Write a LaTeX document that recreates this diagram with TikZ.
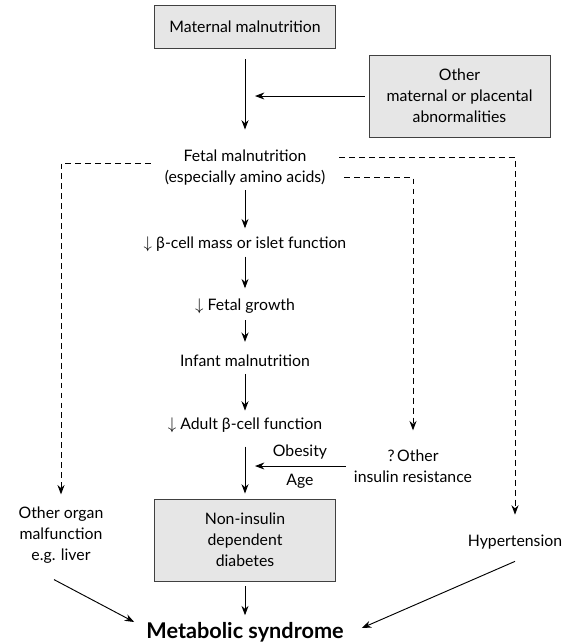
\documentclass[tikz,border=0pt]{standalone}
\usepackage{fontspec}
\setmainfont{Lato}
\usetikzlibrary{arrows.meta}
\definecolor{boxfill}{RGB}{230, 230, 230}
\definecolor{boxline}{RGB}{64, 64, 64}

\begin{document}
\begin{tikzpicture}[x=0.03cm, y=-0.03cm,
  lbl/.style={inner sep=0pt, align=center, font=\fontsize{13.5}{18}\selectfont},
  box/.style={lbl, draw=boxline, fill=boxfill, line width=0.8pt, minimum width=5.43cm},
  link/.style={->, >={Stealth[length=8pt, width=6pt]}, line width=0.8pt},
  dlink/.style={link, dash pattern=on 5pt off 3.5pt}]
  \useasboundingbox (0, 0) rectangle (565, 643);

  % boxes
  \node[box, minimum height=1.29cm] (maternal) at (245, 26.5) {Maternal malnutrition};
  \node[box, minimum height=2.46cm] (other) at (459.5, 96) {Other\\maternal or placental\\abnormalities};
  \node[box, minimum height=2.46cm] (nidd) at (245, 540) {Non-insulin\\dependent\\diabetes};

  % plain labels
  \node[lbl] (fetal) at (245, 167.5) {Fetal malnutrition\\(especially amino acids)};
  \node[lbl] (beta) at (245, 244) {$\downarrow$ β-cell mass or islet function};
  \node[lbl] (growth) at (245, 306) {$\downarrow$ Fetal growth};
  \node[lbl] (infant) at (245, 361) {Infant malnutrition};
  \node[lbl] (adult) at (245, 425) {$\downarrow$ Adult β-cell function};
  \node[lbl] (obesity) at (300, 452) {Obesity};
  \node[lbl] (age) at (300, 481) {Age};
  \node[lbl] (insulin) at (413, 466) {?\,Other\\insulin resistance};
  \node[lbl] (organ) at (61, 535) {Other organ\\malfunction\\e.g. liver};
  \node[lbl] (hyper) at (515, 542) {Hypertension};
  \node[lbl, font=\fontsize{18.5}{22}\selectfont\bfseries] (metabolic) at (245, 632) {Metabolic syndrome};

  % main chain
  \draw[link, shorten <=0.33cm, shorten >=0.6cm] (maternal) -- (fetal);
  \draw[link, shorten <=0.12cm, shorten >=0.3cm] (other.west) -- (other.west -| maternal.south);
  \draw[link, shorten <=0.15cm, shorten >=0.24cm] (fetal) -- (beta);
  \draw[link, shorten <=0.15cm, shorten >=0.3cm] (beta) -- (growth);
  \draw[link, shorten <=0.2cm, shorten >=0.39cm] (growth) -- (infant);
  \draw[link, shorten <=0.2cm, shorten >=0.2cm] (infant) -- (adult);
  \draw[link, shorten <=0.42cm, shorten >=0.15cm] (adult) -- (nidd);
  \draw[link, shorten <=0.24cm, shorten >=0.3cm] (insulin.west) -- (insulin.west -| nidd.north);
  \draw[link, shorten <=0.15cm, shorten >=0.2cm] (nidd) -- (metabolic);

  % dashed branches
  \draw[dlink, shorten >=0.36cm] ([shift={(-14, -4)}]fetal.west) -| (organ.north);
  \draw[dlink, shorten >=0.6cm] ([shift={(14, -10)}]fetal.east) -| (hyper.north);
  \draw[dlink, shorten >=0.57cm] ([shift={(19, 10)}]fetal.east) -| (insulin.north);

  % into the syndrome
  \draw[link] ([shift={(-7, 16)}]organ.south) -- ([shift={(-12, -10)}]metabolic.west);
  \draw[link] ([shift={(0, 12)}]hyper.south) -- ([shift={(18, -4)}]metabolic.east);
\end{tikzpicture}
\end{document}
